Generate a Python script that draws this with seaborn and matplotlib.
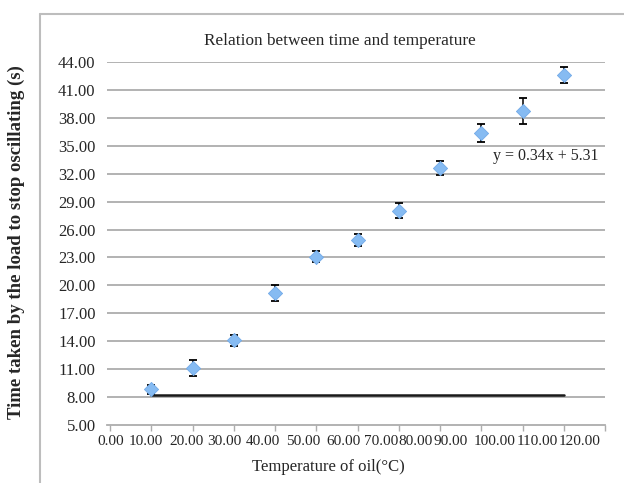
import numpy as np
import pandas as pd
import seaborn as sns
import matplotlib.pyplot as plt
from matplotlib.lines import Line2D
from matplotlib.transforms import ScaledTranslation

# Readings taken off the reference chart
temperature = [10, 20, 30, 40, 50, 60, 70, 80, 90, 100, 110]
time_taken = [8.85, 11.1, 14.1, 19.2, 23.1, 24.9, 28.0, 32.6, 36.4, 38.7, 42.6]
time_error = [0.5, 0.85, 0.6, 0.85, 0.6, 0.65, 0.8, 0.75, 0.95, 1.4, 0.9]

# stray black line drawn near the bottom of the chart
flat_x = [10, 110]
flat_y = [8.2, 8.2]

x_ticks = [0, 10, 20, 30, 40, 50, 60, 70, 80, 90, 100, 110, 120]
y_ticks = [5, 8, 11, 14, 17, 20, 23, 26, 29, 32, 35, 38, 41, 44]

equation = "y = 0.34x + 5.31"


def main():
    sns.set_theme(style="white")
    plt.rcParams["font.family"] = ["Liberation Serif", "DejaVu Serif"]

    df = pd.DataFrame({"temp": temperature, "time": time_taken, "err": time_error})

    fig = plt.figure(figsize=(6.24, 4.83), dpi=100)
    ax = fig.add_axes([106.7 / 624, 58 / 483, (605 - 106.7) / 624, (425 - 62) / 483])

    grid_col = "#ADADAD"
    for v in y_ticks[1:]:
        ax.axhline(v, color=grid_col, lw=1.3, zorder=0)

    sns.lineplot(x=flat_x, y=flat_y, color="#1a1a1a", lw=1.8, ax=ax, zorder=2)

    ax.errorbar(df["temp"], df["time"], yerr=df["err"], fmt="none",
                ecolor="black", elinewidth=1.1, capsize=3, capthick=1.3, zorder=3)
    sns.scatterplot(data=df, x="temp", y="time", marker="D", s=52,
                    color="#86BBF2", edgecolor="#72AAE8", linewidth=0.6,
                    ax=ax, zorder=4, legend=False)

    ax.set_xlim(-0.8, 120)
    ax.set_ylim(5, 44)
    ax.set_xticks(x_ticks)
    ax.set_xticklabels([f"{v:.2f}" for v in x_ticks], fontsize=11)
    ax.set_yticks(y_ticks)
    ax.set_yticklabels([f"{v:.2f}" for v in y_ticks], fontsize=12)
    ax.tick_params(axis="x", direction="out", length=4, width=1, color=grid_col,
                   pad=3, bottom=True)
    ax.tick_params(axis="y", length=0, pad=8)
    for side in ["left", "right", "top"]:
        ax.spines[side].set_visible(False)
    ax.spines["bottom"].set_color(grid_col)
    ax.spines["bottom"].set_linewidth(1.3)
    ax.set_xlabel("")
    ax.set_ylabel("")

    # the reference squeezes its x labels together, drifting left of the ticks
    shift_px = [1, -5, -6, -9, -12, -13, -14, -18, -25, -31, -28, -26, -25]
    for lab, dx in zip(ax.get_xticklabels(), shift_px):
        lab.set_transform(lab.get_transform()
                          + ScaledTranslation(dx / 100, 0, fig.dpi_scale_trans))

    ax.text(92.8, 33.9, equation, fontsize=11.5, va="center", ha="left")

    fig.text(340 / 624, 1 - 41 / 483, "Relation between time and temperature",
             fontsize=12.4, ha="center", va="center")
    fig.text(328 / 624, 1 - 467 / 483, "Temperature of oil(°C)",
             fontsize=12, ha="center", va="center")
    fig.text(16.5 / 624, 1 - 242 / 483, "Time taken by the load to stop oscillating (s)",
             fontsize=13.5, fontweight="bold", rotation=90, ha="center", va="center")

    # outer chart frame, cut off at the right and bottom edges
    frame_col = "#BDBDBD"
    fig.add_artist(Line2D([39.5 / 624, 39.5 / 624], [0, 1 - 14 / 483],
                          color=frame_col, lw=1.5, transform=fig.transFigure))
    fig.add_artist(Line2D([39.5 / 624, 1], [1 - 14 / 483, 1 - 14 / 483],
                          color=frame_col, lw=1.5, transform=fig.transFigure))

    fig.savefig("out.png", dpi=100)


if __name__ == "__main__":
    main()
